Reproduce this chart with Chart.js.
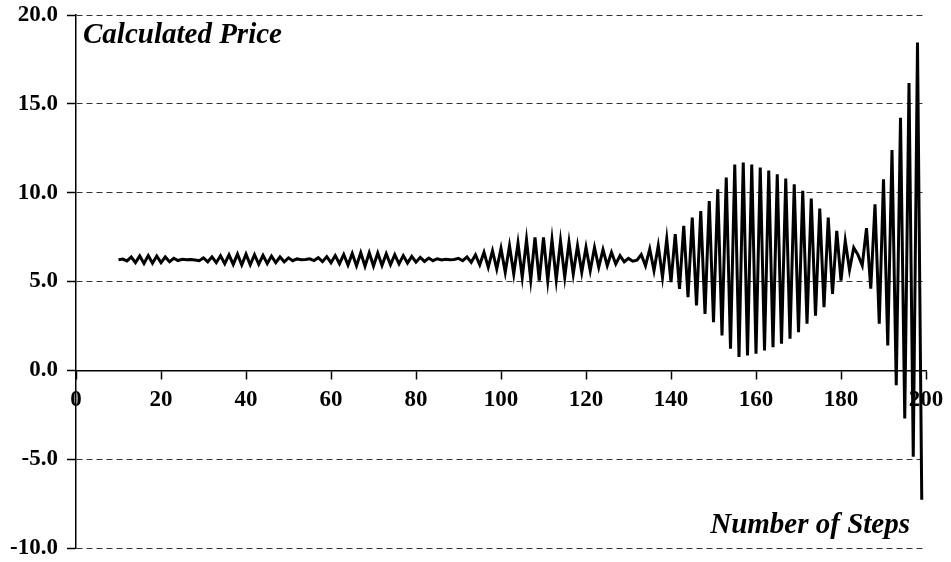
<!DOCTYPE html>
<html>
<head>
<meta charset="utf-8">
<script src="https://cdn.jsdelivr.net/npm/chart.js@4/dist/chart.umd.min.js"></script>
<style>
  body { margin: 0; background: #fff; }
</style>
</head>
<body>
<canvas id="myChart" width="951" height="562"></canvas>
<script>
// data, one array per "beat" of the oscillation
var firstStep = 10;
var price10to28 = [6.22, 6.26, 6.16, 6.38, 6.06, 6.44, 6.02, 6.46, 6.03, 6.43, 6.06, 6.38, 6.11, 6.31, 6.18, 6.25, 6.22, 6.24, 6.21];
var price29to54 = [6.17, 6.33, 6.11, 6.39, 6.06, 6.45, 6.00, 6.50, 5.96, 6.54, 5.93, 6.54, 5.94, 6.51, 5.97, 6.47, 6.01, 6.43, 6.06, 6.38, 6.11, 6.33, 6.17, 6.27, 6.22, 6.24];
var price55to89 = [6.28, 6.18, 6.34, 6.12, 6.40, 6.06, 6.46, 6.00, 6.52, 5.93, 6.58, 5.88, 6.62, 5.86, 6.62, 5.87, 6.60, 5.90, 6.56, 5.94, 6.51, 5.99, 6.46, 6.04, 6.41, 6.09, 6.36, 6.13, 6.32, 6.17, 6.28, 6.21, 6.25, 6.23, 6.24];
var price90to132 = [6.30, 6.17, 6.38, 6.08, 6.50, 5.94, 6.64, 5.80, 6.73, 5.70, 6.86, 5.52, 7.01, 5.42, 7.16, 5.24, 7.35, 5.09, 7.48, 5.05, 7.48, 5.05, 7.35, 5.09, 7.29, 5.24, 7.20, 5.42, 7.01, 5.52, 6.92, 5.61, 6.92, 5.80, 6.79, 5.89, 6.64, 5.98, 6.45, 6.11, 6.30, 6.14, 6.20];
var price133to181 = [6.52, 5.89, 6.83, 5.61, 7.01, 5.24, 7.39, 4.96, 7.67, 4.58, 8.13, 4.12, 8.60, 3.65, 8.97, 3.18, 9.53, 2.71, 10.19, 1.96, 10.85, 1.22, 11.59, 0.75, 11.69, 0.84, 11.59, 0.94, 11.41, 1.12, 11.25, 1.30, 11.03, 1.50, 10.79, 1.78, 10.47, 2.15, 10.10, 2.62, 9.67, 3.08, 9.11, 3.55, 8.60, 4.30, 7.85, 5.05, 7.29];
var price182to199 = [5.65, 6.9, 6.5, 5.9, 8.0, 4.6, 9.35, 2.62, 10.75, 1.4, 12.4, -0.84, 14.21, -2.71, 16.17, -4.86, 18.45, -7.29];

var xTicks = [0, 20, 40, 60, 80, 100, 120, 140, 160, 180, 200];
var yTicks = [-10, -5, 0, 5, 10, 15, 20];

var prices = price10to28.concat(price29to54, price55to89, price90to132, price133to181, price182to199);
var points = prices.map(function(p, i){
  return { x: firstStep + i, y: p };
});

var serif = '"Liberation Serif", "Times New Roman", serif';

// the two captions sit inside the plot
var captions = {
  id: 'captions',
  afterDraw: function(chart){
    var ctx = chart.ctx;
    ctx.save();
    ctx.fillStyle = '#000';
    ctx.font = 'italic bold 29px ' + serif;
    ctx.textBaseline = 'alphabetic';
    ctx.textAlign = 'left';
    ctx.fillText('Calculated Price', 83, 43);
    ctx.textAlign = 'right';
    ctx.fillText('Number of Steps', 910, 533);
    ctx.restore();
  }
};

var ctx = document.getElementById('myChart');
var chart = new Chart(ctx, {
  type: 'line',
  data: {
    datasets: [{
      label: 'Calculated Price',
      data: points,
      borderColor: '#000',
      backgroundColor: '#000',
      borderWidth: 3,
      pointRadius: 0,
      tension: 0,
      fill: false
    }]
  },
  options: {
    responsive: false,
    animation: false,
    devicePixelRatio: 1,
    layout: { padding: { top: 15, bottom: 14, left: 0, right: 25 } },
    plugins: {
      legend: { display: false },
      tooltip: { enabled: false }
    },
    scales: {
      x: {
        type: 'linear',
        position: { y: 0 },
        min: 0,
        max: 200,
        afterBuildTicks: function(scale){
          scale.ticks = xTicks.map(function(v){ return { value: v }; });
        },
        afterFit: function(scale){
          scale.height = 0;
          scale.paddingLeft = 0;
          scale.paddingRight = 0;
        },
        ticks: {
          color: '#000',
          font: { family: serif, size: 23, weight: 'bold' },
          padding: 8,
          maxRotation: 0,
          autoSkip: false
        },
        grid: {
          drawOnChartArea: false,
          drawTicks: true,
          tickLength: 8,
          tickColor: '#000',
          tickWidth: 1.5
        },
        border: { display: true, color: '#000', width: 1.5 }
      },
      y: {
        min: -10,
        max: 20,
        afterBuildTicks: function(scale){
          scale.ticks = yTicks.map(function(v){ return { value: v }; });
        },
        afterFit: function(scale){
          scale.width = 76;
          scale.paddingTop = 0;
          scale.paddingBottom = 0;
        },
        ticks: {
          color: '#000',
          font: { family: serif, size: 23, weight: 'bold' },
          padding: 9,
          callback: function(v){ return v.toFixed(1); }
        },
        grid: {
          color: '#333',
          lineWidth: 1,
          tickBorderDash: [],
          tickColor: '#000',
          tickLength: 9,
          tickWidth: 1.5
        },
        border: { display: true, color: '#000', width: 1.5, dash: [6, 4] }
      }
    }
  },
  plugins: [captions]
});
</script>
</body>
</html>
